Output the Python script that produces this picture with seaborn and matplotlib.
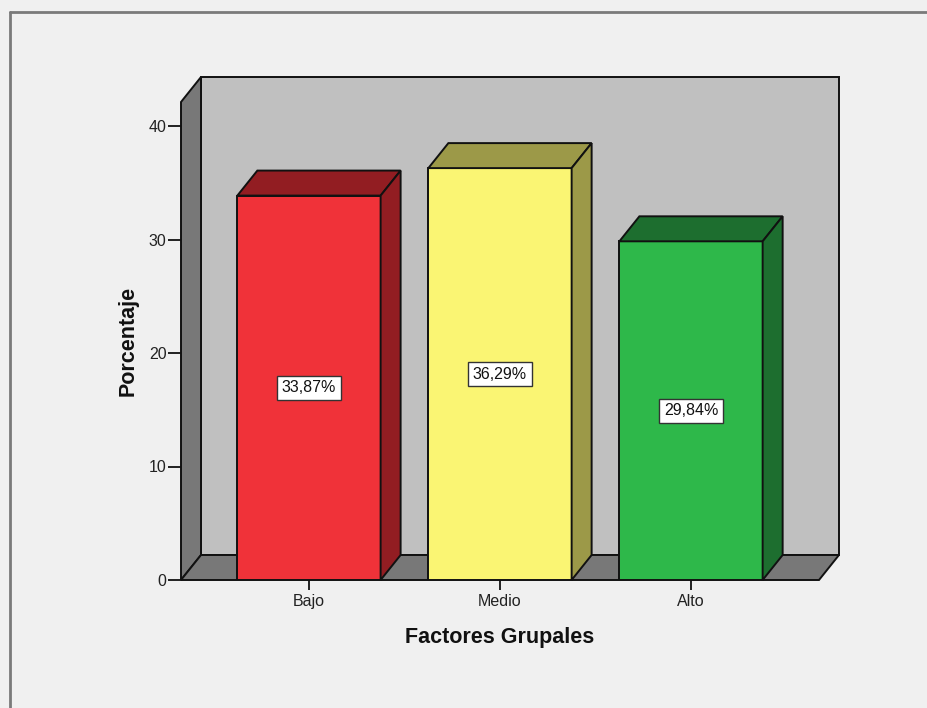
import matplotlib
matplotlib.use("Agg")
import matplotlib.pyplot as plt
from matplotlib.patches import Polygon
from matplotlib.lines import Line2D
import seaborn as sns
import pandas as pd

# Data
categories = ["Bajo", "Medio", "Alto"]
percentages = [33.87, 36.29, 29.84]
value_labels = ["33,87%", "36,29%", "29,84%"]
y_ticks = [0, 10, 20, 30, 40]

# Styling
front_colors = ["#F03239", "#FAF573", "#2EB84A"]
shade_colors = ["#921D22", "#9C9948", "#1D6E2F"]
wall_back = "#C0C0C0"
wall_side = "#787878"
bg = "#F0F0F0"

sns.set_theme(style="white")
plt.rcParams["font.family"] = ["Liberation Sans", "DejaVu Sans"]

W, H, DPI = 927, 708, 100
fig = plt.figure(figsize=(W / DPI, H / DPI), dpi=DPI, facecolor=bg)

# axes box in pixels: left, right, top, bottom of the front plane
L, R, T, B = 181, 819, 102, 580
ax = fig.add_axes([L / W, (H - B) / H, (R - L) / W, (B - T) / H])
ax.set_facecolor("none")

df = pd.DataFrame({"cat": categories, "pct": percentages})
sns.barplot(data=df, x="cat", y="pct", hue="cat", palette=front_colors,
            saturation=1, width=0.75, edgecolor="#111111", linewidth=1.4,
            legend=False, ax=ax, zorder=3)

xmin, xmax = -0.67, 2.67
ymax = (B - T) / 11.35
ax.set_xlim(xmin, xmax)
ax.set_ylim(0, ymax)

# depth of the 3D extrusion expressed in data units
depth_px = (20, 25)
DX = depth_px[0] * (xmax - xmin) / (R - L)
DY = depth_px[1] * ymax / (B - T)

edge = dict(edgecolor="#111111", linewidth=1.4, clip_on=False)

# back wall, left wall and floor
ax.add_patch(Polygon([(xmin + DX, DY), (xmax + DX, DY), (xmax + DX, ymax + DY),
                      (xmin + DX, ymax + DY)], facecolor=wall_back, zorder=0.5, **edge))
ax.add_patch(Polygon([(xmin, 0), (xmin + DX, DY), (xmin + DX, ymax + DY),
                      (xmin, ymax)], facecolor=wall_side, zorder=0.6, **edge))
ax.add_patch(Polygon([(xmin, 0), (xmax, 0), (xmax + DX, DY), (xmin + DX, DY)],
                     facecolor=wall_side, zorder=0.6, **edge))

# top and side faces of each bar, plus value labels
for patch, dark, lab in zip(ax.patches[:len(categories)], shade_colors, value_labels):
    x0 = patch.get_x()
    w = patch.get_width()
    h = patch.get_height()
    x1 = x0 + w
    ax.add_patch(Polygon([(x0, h), (x1, h), (x1 + DX, h + DY), (x0 + DX, h + DY)],
                         facecolor=dark, zorder=3, **edge))
    ax.add_patch(Polygon([(x1, 0), (x1 + DX, DY), (x1 + DX, h + DY), (x1, h)],
                         facecolor=dark, zorder=3, **edge))
    ax.text(x0 + w / 2, h / 2, lab, ha="center", va="center", fontsize=11.5,
            color="#111111", zorder=5,
            bbox=dict(boxstyle="square,pad=0.28", facecolor="white",
                      edgecolor="#333333", linewidth=1.0))

for s in ax.spines.values():
    s.set_visible(False)

ax.set_yticks(y_ticks)
ax.set_yticklabels([str(t) for t in y_ticks])
ax.tick_params(axis="y", left=True, length=9.4, width=1.3, color="#111111",
               pad=1, labelsize=11.5, labelcolor="#222222")
ax.tick_params(axis="x", bottom=True, length=7.2, width=1.3, color="#111111",
               pad=3, labelsize=11.5, labelcolor="#222222")

ax.set_xlabel("Factores Grupales", fontsize=15.5, fontweight="bold", color="#111111")
ax.set_ylabel("Porcentaje", fontsize=15.5, fontweight="bold", color="#111111")
ax.xaxis.label.set_va("center")
ax.yaxis.label.set_va("center")
ax.xaxis.set_label_coords((499.5 - L) / (R - L), (B - 637) / (B - T))
ax.yaxis.set_label_coords((128 - L) / (R - L), 0.5)

# outer frame of the chart area
fig.add_artist(Line2D([10 / W, 10 / W], [0, 1 - 12 / H], transform=fig.transFigure,
                      color="#7A7A7A", linewidth=2.0))
fig.add_artist(Line2D([10 / W, 1], [1 - 12 / H, 1 - 12 / H], transform=fig.transFigure,
                      color="#7A7A7A", linewidth=2.0))

fig.savefig("out.png", dpi=DPI, facecolor=bg)
